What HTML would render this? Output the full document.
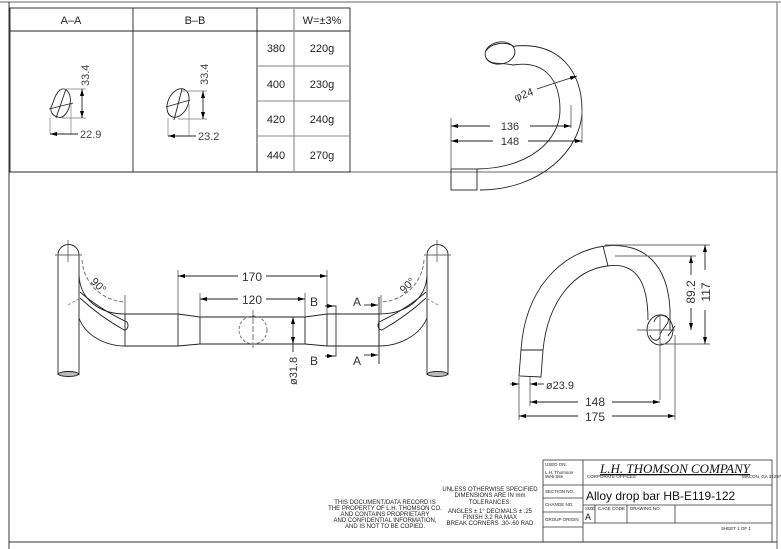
<!DOCTYPE html>
<html><head><style>
html,body{margin:0;padding:0;background:#fff;}
svg{display:block;font-family:"Liberation Sans",sans-serif;}
</style></head><body>
<svg width="781" height="549" viewBox="0 0 781 549" xmlns="http://www.w3.org/2000/svg">
<defs>
<marker id="ar" markerWidth="7" markerHeight="4" refX="7" refY="2" orient="auto-start-reverse" markerUnits="userSpaceOnUse"><path d="M0,0 L7,2 L0,4 z" fill="#000"/></marker>
</defs>
<rect width="781" height="549" fill="#fff"/>
<!-- border -->
<line x1="0" y1="2" x2="781" y2="2" stroke="#999" stroke-width="1.5"/>
<line x1="9" y1="2" x2="9" y2="549" stroke="#333" stroke-width="1"/>
<line x1="777" y1="2" x2="777" y2="549" stroke="#999" stroke-width="1.5"/>
<line x1="9" y1="542" x2="777" y2="542" stroke="#333" stroke-width="1"/>
<line x1="9" y1="172" x2="777" y2="172" stroke="#333" stroke-width="0.8"/>

<!-- table -->
<g stroke="#222" stroke-width="0.9" fill="none">
<rect x="10" y="8" width="340" height="164"/>
<line x1="10" y1="31" x2="350" y2="31"/>
<line x1="133" y1="8" x2="133" y2="172"/>
<line x1="257" y1="8" x2="257" y2="172"/>
<line x1="294" y1="8" x2="294" y2="172" stroke="#999" stroke-width="1.3"/>
<line x1="257" y1="66" x2="350" y2="66" stroke="#999" stroke-width="1.3"/>
<line x1="257" y1="101" x2="350" y2="101" stroke="#888"/>
<line x1="257" y1="136" x2="350" y2="136" stroke="#888"/>
</g>
<g font-size="11" fill="#222" text-anchor="middle">
<text x="71" y="24">A–A</text><text x="195" y="24">B–B</text><text x="322" y="24">W=±3%</text>
<text x="276" y="52">380</text><text x="322" y="52">220g</text>
<text x="276" y="88">400</text><text x="322" y="88">230g</text>
<text x="276" y="123">420</text><text x="322" y="123">240g</text>
<text x="276" y="159">440</text><text x="322" y="159">270g</text>
</g>
<!-- sections -->
<g stroke="#222" stroke-width="0.9" fill="none">
<path d="M60,90 C66,86 72,94 70,104 C68,114 62,119 58,117 C52,116 49,110 52,105 C54,101 55,94 60,90 z"/>
<line x1="56" y1="118" x2="66" y2="89"/><line x1="49" y1="109" x2="73" y2="103"/>
<line x1="50" y1="118" x2="50" y2="134" stroke="#999"/><line x1="71" y1="104" x2="71" y2="134" stroke="#999"/>
<line x1="66" y1="89" x2="86" y2="89" stroke="#999"/><line x1="62" y1="118" x2="86" y2="118" stroke="#999"/>
<line x1="82" y1="89" x2="82" y2="118" marker-start="url(#ar)" marker-end="url(#ar)"/>
<line x1="50" y1="134" x2="78" y2="134" marker-start="url(#ar)"/>
<ellipse cx="178" cy="103" rx="10" ry="15" transform="rotate(25 178 103)"/>
<line x1="174" y1="120" x2="182" y2="89"/><line x1="166" y1="107" x2="190" y2="100"/>
<line x1="168" y1="118" x2="168" y2="136" stroke="#999"/><line x1="189" y1="104" x2="189" y2="136" stroke="#999"/>
<line x1="182" y1="91" x2="207" y2="91" stroke="#999"/><line x1="178" y1="119" x2="207" y2="119" stroke="#999"/>
<line x1="203" y1="91" x2="203" y2="119" marker-start="url(#ar)" marker-end="url(#ar)"/>
<line x1="168" y1="136" x2="196" y2="136" marker-start="url(#ar)"/>
</g>
<g font-size="11" fill="#444">
<text x="80" y="138">22.9</text><text x="198" y="140">23.2</text>
<text transform="translate(89,86) rotate(-90)">33.4</text>
<text transform="translate(208,85) rotate(-90)">33.4</text>
</g>

<!-- top-right side view -->
<g stroke="#222" stroke-width="0.9" fill="none">
<ellipse cx="500" cy="53" rx="15" ry="11" transform="rotate(-10 500 53)"/>
<path d="M486,51 C490,44 505,40 515,47"/>
<path d="M515,46 C560,42 582,72 582,110 C582,150 540,190 480,190"/>
<path d="M513,65 C545,60 560,80 560,110 C560,140 530,168 477,169"/>
<path d="M486,58 C492,66 500,62 513,65"/>
<rect x="451" y="169" width="26" height="21"/>
<line x1="451" y1="118" x2="451" y2="169" stroke="#666"/>
<line x1="571" y1="105" x2="571" y2="128" stroke="#666"/>
<line x1="582" y1="110" x2="582" y2="143" stroke="#666"/>
<line x1="451" y1="126" x2="490" y2="126" marker-start="url(#ar)"/>
<line x1="530" y1="126" x2="571" y2="126" marker-end="url(#ar)"/>
<line x1="451" y1="141" x2="493" y2="141" marker-start="url(#ar)"/>
<line x1="528" y1="141" x2="582" y2="141" marker-end="url(#ar)"/>
<line x1="555" y1="83" x2="577" y2="76" marker-end="url(#ar)"/>
<line x1="537" y1="89" x2="555" y2="83"/>
</g>
<g font-size="11" fill="#333" text-anchor="middle">
<text x="510" y="130">136</text><text x="510" y="145">148</text>
<text transform="translate(525,98) rotate(-20)">φ24</text>
</g>

<!-- front view -->
<g stroke="#222" stroke-width="0.9" fill="none">
<path d="M58,375 L58,255 A10.5,10.5 0 0 1 79,255 L79,375"/>
<ellipse cx="68.5" cy="374" rx="10" ry="2.5" fill="#bbb"/>
<path d="M427,375 L427,255 A10.5,10.5 0 0 1 448,255 L448,375"/>
<ellipse cx="437.5" cy="374" rx="10" ry="2.5" fill="#bbb"/>
<line x1="68" y1="240" x2="68" y2="262" stroke="#666"/><line x1="55" y1="255" x2="82" y2="255" stroke="#666"/>
<line x1="437" y1="240" x2="437" y2="262" stroke="#666"/><line x1="424" y1="255" x2="451" y2="255" stroke="#666"/>
<path d="M79,275 C80,300 100,314 125,314 L178,314 L200,317 L305,317 L327,314 L379,314 C405,314 426,300 427,275"/>
<path d="M79,318 C85,335 105,346 125,346 L178,346 L200,344 L305,344 L327,346 L379,346 C400,346 420,335 427,318"/>
<path d="M80,292 C95,305 112,315 127,322 C129,325 128,330 124,330 C110,322 95,312 80,298"/>
<path d="M426,292 C411,305 394,315 379,322 C377,325 378,330 382,330 C396,322 411,312 426,298"/>
<line x1="125" y1="314" x2="125" y2="346"/><line x1="178" y1="314" x2="178" y2="346"/>
<line x1="200" y1="317" x2="200" y2="344"/><line x1="305" y1="317" x2="305" y2="344"/>
<line x1="327" y1="314" x2="327" y2="346"/><line x1="379" y1="314" x2="379" y2="346"/>
<circle cx="253" cy="330" r="14" stroke-dasharray="3,2" stroke="#666"/>
<line x1="253" y1="310" x2="253" y2="350" stroke="#666" stroke-dasharray="6,2"/>
<path d="M82,260 A45,45 0 0 0 125,302" stroke-dasharray="4,2" stroke="#666"/>
<path d="M424,260 A45,45 0 0 1 381,302" stroke-dasharray="4,2" stroke="#666"/>
<line x1="68" y1="305" x2="80" y2="298" stroke="#888" stroke-dasharray="3,2"/>
<line x1="438" y1="305" x2="426" y2="298" stroke="#888" stroke-dasharray="3,2"/>
<line x1="178" y1="270" x2="178" y2="314" stroke="#666"/><line x1="327" y1="270" x2="327" y2="314" stroke="#666"/>
<line x1="200" y1="293" x2="200" y2="317" stroke="#666"/><line x1="305" y1="293" x2="305" y2="317" stroke="#666"/>
<line x1="178" y1="276" x2="238" y2="276" marker-start="url(#ar)"/><line x1="266" y1="276" x2="327" y2="276" marker-end="url(#ar)"/>
<line x1="200" y1="299" x2="238" y2="299" marker-start="url(#ar)"/><line x1="266" y1="299" x2="305" y2="299" marker-end="url(#ar)"/>
<line x1="293" y1="317" x2="293" y2="344" marker-start="url(#ar)" marker-end="url(#ar)"/>
<line x1="293" y1="344" x2="293" y2="352"/>
<line x1="125" y1="295" x2="125" y2="314" stroke="#666"/>
<line x1="381" y1="295" x2="381" y2="314" stroke="#666"/>
<path d="M325,306 L336,306 L336,356 L325,356" stroke="#333"/>
<line x1="325" y1="306" x2="334" y2="306" marker-end="url(#ar)"/>
<line x1="325" y1="356" x2="334" y2="356" marker-end="url(#ar)"/>
<line x1="379" y1="297" x2="379" y2="364"/>
<line x1="364" y1="305" x2="378" y2="305" marker-end="url(#ar)"/>
<line x1="364" y1="355" x2="378" y2="355" marker-end="url(#ar)"/>
</g>
<g font-size="12" fill="#333" text-anchor="middle">
<text x="252" y="281">170</text><text x="252" y="304">120</text>
<text x="314" y="306">B</text><text x="314" y="365">B</text>
<text x="357" y="306">A</text><text x="357" y="365">A</text>
<text transform="translate(96,288) rotate(45)" font-size="11">90°</text>
<text transform="translate(410,288) rotate(-45)" font-size="11">90°</text>
<text transform="translate(297,385) rotate(-90)" font-size="11" text-anchor="start">ø31.8</text>
</g>

<!-- bottom-right side view -->
<g stroke="#222" stroke-width="0.9" fill="none">
<path d="M521,350 C525,290 560,252 605,246 C645,242 668,265 670,310 L670,330"/>
<path d="M543,350 C548,300 575,270 607,266 C635,262 648,280 648,320"/>
<line x1="603" y1="246" x2="608" y2="266"/>
<path d="M521,350 L519,376 L541,377 L543,350"/>
<line x1="521" y1="350" x2="543" y2="350"/>
<ellipse cx="660" cy="330" rx="13" ry="15"/>
<path d="M654,322 C656,315 664,313 668,318 C670,324 662,328 660,335 C660,342 652,342 650,335"/>
<line x1="637" y1="330" x2="675" y2="330" stroke="#666"/>
<line x1="660" y1="314" x2="660" y2="400" stroke="#666"/>
<line x1="668" y1="336" x2="675" y2="326"/>
<line x1="605" y1="245" x2="710" y2="245" stroke="#666"/>
<line x1="615" y1="256" x2="696" y2="256" stroke="#666"/>
<line x1="660" y1="344" x2="710" y2="344" stroke="#666"/>
<line x1="705" y1="245" x2="705" y2="270" marker-start="url(#ar)"/><line x1="705" y1="310" x2="705" y2="344" marker-end="url(#ar)"/>
<line x1="691" y1="256" x2="691" y2="275" marker-start="url(#ar)"/><line x1="691" y1="308" x2="691" y2="330" marker-end="url(#ar)"/>
<line x1="519" y1="377" x2="519" y2="420" stroke="#666"/><line x1="530" y1="377" x2="530" y2="406" stroke="#666"/>
<line x1="675" y1="335" x2="675" y2="420" stroke="#666"/>
<line x1="510" y1="384" x2="519" y2="384" marker-end="url(#ar)"/>
<line x1="530" y1="384" x2="544" y2="384" marker-start="url(#ar)"/>
<line x1="530" y1="402" x2="578" y2="402" marker-start="url(#ar)"/><line x1="612" y1="402" x2="660" y2="402" marker-end="url(#ar)"/>
<line x1="519" y1="416" x2="578" y2="416" marker-start="url(#ar)"/><line x1="612" y1="416" x2="675" y2="416" marker-end="url(#ar)"/>
</g>
<g font-size="12" fill="#333" text-anchor="middle">
<text x="595" y="406">148</text><text x="595" y="421">175</text>
<text x="560" y="389" font-size="11">ø23.9</text>
<text transform="translate(695,292) rotate(-90)">89.2</text>
<text transform="translate(710,292) rotate(-90)">117</text>
</g>

<!-- notes -->
<g font-size="6" fill="#222" text-anchor="middle">
<text x="385" y="504">THIS DOCUMENT/DATA RECORD IS</text>
<text x="385" y="510">THE PROPERTY OF L.H. THOMSON CO.</text>
<text x="385" y="516">AND CONTAINS PROPRIETARY</text>
<text x="385" y="522">AND CONFIDENTIAL INFORMATION,</text>
<text x="385" y="528">AND IS NOT TO BE COPIED.</text>
<text x="490" y="491">UNLESS OTHERWISE SPECIFIED</text>
<text x="490" y="497">DIMENSIONS ARE IN mm</text>
<text x="490" y="504">TOLERANCES:</text>
<text x="490" y="513">ANGLES ± 1°  DECIMALS ± .25</text>
<text x="490" y="519">FINISH 3.2 RA MAX</text>
<text x="490" y="525">BREAK CORNERS .30-.60 RAD</text>
</g>
<!-- title block -->
<g stroke="#333" stroke-width="0.8" fill="none">
<rect x="543" y="460" width="229" height="82"/>
<line x1="583" y1="460" x2="583" y2="542"/>
<line x1="543" y1="485" x2="772" y2="485"/>
<line x1="543" y1="498" x2="583" y2="498"/>
<line x1="583" y1="505" x2="772" y2="505"/>
<line x1="543" y1="512" x2="583" y2="512"/>
<line x1="543" y1="527" x2="583" y2="527"/>
<line x1="583" y1="523" x2="772" y2="523"/>
<line x1="595" y1="505" x2="595" y2="523"/>
<line x1="627" y1="505" x2="627" y2="523"/>
<line x1="675" y1="505" x2="675" y2="523"/>
</g>
<g font-size="4.5" fill="#222">
<text x="545" y="466">USED ON:</text>
<text x="545" y="474">L.H. Thomson</text><text x="545" y="478">Web Site</text>
<text x="545" y="493">SECTION NO.</text>
<text x="545" y="506">CHANGE NO.</text>
<text x="545" y="521">GROUP ORIGIN</text>
<text x="587" y="478">CORPORATE OFFICES</text>
<text x="742" y="478">MACON, GA 31297</text>
<text x="585" y="510">SIZE</text>
<text x="598" y="510">CAGE CODE</text>
<text x="630" y="510">DRAWING NO.</text>
<text x="721" y="530">SHEET 1 OF 1</text>
</g>
<text x="600" y="473" font-family="Liberation Serif,serif" font-style="italic" font-size="13" fill="#111" text-decoration="underline">L.H. THOMSON COMPANY</text>
<text x="586" y="500" font-size="12" fill="#111">Alloy drop bar HB-E119-122</text>
<text x="585" y="520" font-size="9" fill="#111">A</text>
</svg>
</body></html>
